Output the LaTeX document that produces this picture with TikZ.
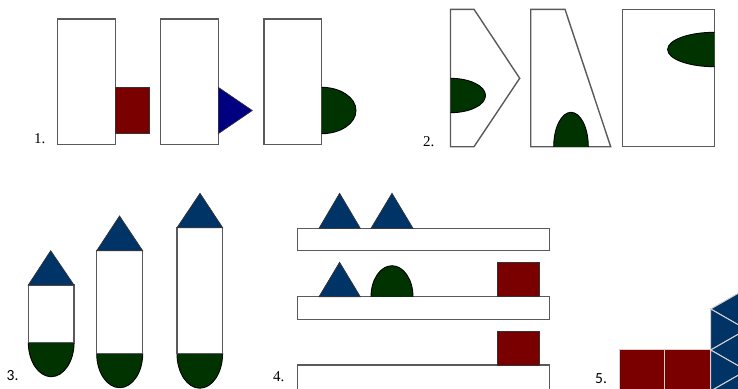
\documentclass[tikz,border=0pt]{standalone}
\usepackage{fontspec}
\setmainfont{Liberation Serif}
\newfontfamily\labsans{Carlito}
\definecolor{cred}{HTML}{7A0000}
\definecolor{cnavy}{HTML}{000080}
\definecolor{cblue}{HTML}{003366}
\definecolor{cgreen}{HTML}{003300}
\definecolor{cedge}{HTML}{5A5A5A}
\definecolor{clight}{HTML}{D8D0D0}
\tikzset{
  box/.style={draw=cedge, fill=white, line width=1.4pt},
  redsq/.style={draw=black!80, fill=cred, line width=0.9pt},
  navytri/.style={draw=black!80, fill=cnavy, line width=0.6pt},
  bluetri/.style={draw=black!80, fill=cblue, line width=0.7pt},
  greenshape/.style={draw=black, fill=cgreen, line width=0.9pt},
  tile/.style={draw=clight, line width=1pt},
  lab/.style={font=\fontsize{15}{17}\selectfont, inner sep=0pt, anchor=base west},
  labs/.style={font=\labsans\fontsize{15.5}{17}\selectfont, inner sep=0pt, anchor=base west},
}
\begin{document}
\begin{tikzpicture}[x=1pt, y=-1pt]
\useasboundingbox (0,0) rectangle (738,388);
\clip (0,0) rectangle (738,388);
\fill[white] (0,0) rectangle (738,388);

% ---------- 1 ----------
\node[lab] (l1) at (34,143) {1.};
\draw[box] (57.3,19) rectangle (115.3,144.7);
\draw[redsq] (115.3,87.3) rectangle (149.7,133.7);
\draw[box] (160.7,19) rectangle (218.3,144.7);
\draw[navytri] (218.3,87.3) -- (252.3,110.5) -- (218.3,133.7) -- cycle;
\draw[box] (264,19) rectangle (321.7,144.7);
\begin{scope}
  \clip (321.7,80) rectangle (370,140);
  \draw[greenshape] (321.7,110.5) ellipse [x radius=34.3, y radius=23.2];
\end{scope}

% ---------- 2 ----------
\node[lab] (l2) at (423,146.7) {2.};
\draw[box] (450.5,9.3) -- (474,9.3) -- (519.7,78.3) -- (474,146.7) -- (450.5,146.7) -- cycle;
\begin{scope}
  \clip (450.5,70) rectangle (500,120);
  \draw[greenshape] (450.5,95.5) ellipse [x radius=35, y radius=17.2];
\end{scope}
\draw[box] (530.7,9.3) -- (565,9.3) -- (610.7,146.7) -- (530.7,146.7) -- cycle;
\begin{scope}
  \clip (540,100) rectangle (600,146.7);
  \draw[greenshape] (571,146.7) ellipse [x radius=17.3, y radius=34.4];
\end{scope}
\draw[box] (622.3,9.3) rectangle (714.3,146.7);
\begin{scope}
  \clip (660,25) rectangle (714.3,75);
  \draw[greenshape] (714.3,49.5) ellipse [x radius=46.7, y radius=17.2];
\end{scope}

% ---------- 3 ----------
\node[labs] (l3) at (6.5,380) {3.};
% rocket 1
\begin{scope}
  \clip (20,342.3) rectangle (80,388);
  \draw[greenshape] (51.2,342.3) ellipse [x radius=22.9, y radius=34.4];
\end{scope}
\draw[box] (28.3,285) rectangle (74,342.3);
\draw[bluetri] (28.3,285) -- (50.7,250.7) -- (74,285) -- cycle;
% rocket 2
\begin{scope}
  \clip (90,353.7) rectangle (150,395);
  \draw[greenshape] (119.7,353.7) ellipse [x radius=23, y radius=34];
\end{scope}
\draw[box] (96.7,250.7) rectangle (142.7,353.7);
\draw[bluetri] (96.7,250.7) -- (119.5,216) -- (142.7,250.7) -- cycle;
% rocket 3
\begin{scope}
  \clip (170,353.7) rectangle (230,395);
  \draw[greenshape] (199.8,353.7) ellipse [x radius=22.8, y radius=34.5];
\end{scope}
\draw[box] (177,227.7) rectangle (222.7,353.7);
\draw[bluetri] (177,227.7) -- (200,193.3) -- (222.7,227.7) -- cycle;

% ---------- 4 ----------
\node[lab] (l4) at (273,381.7) {4.};
\draw[box] (297.3,228.3) rectangle (549.3,250.7);
\draw[bluetri] (319,228.3) -- (339.6,193.3) -- (360.3,228.3) -- cycle;
\draw[bluetri] (371,228.3) -- (392,193.3) -- (413,228.3) -- cycle;
\draw[box] (297.3,296.7) rectangle (549.3,319.3);
\draw[bluetri] (319,296.7) -- (339.6,262.3) -- (360.3,296.7) -- cycle;
\begin{scope}
  \clip (365,255) rectangle (420,296.7);
  \draw[greenshape] (392,296.7) ellipse [x radius=21, y radius=31];
\end{scope}
\draw[redsq] (497,262.3) rectangle (539.3,296.7);
\draw[box] (297.3,365) rectangle (549.3,400);
\draw[redsq] (497,331) rectangle (539.3,365);

% ---------- 5 ----------
\node[labs] (l5) at (595,383.5) {5.};
\draw[tile, fill=cred] (619.3,349.3) rectangle (664.5,395);
\draw[tile, fill=cred] (664.5,349.3) rectangle (710.7,395);
\draw[tile, fill=cblue] (746.5,288.5) -- (746.5,329.5) -- (710.7,309) -- cycle;
\draw[tile, fill=cblue] (710.7,309) -- (710.7,350) -- (746.5,329.5) -- cycle;
\draw[tile, fill=cblue] (746.5,329.5) -- (746.5,370.5) -- (710.7,350) -- cycle;
\draw[tile, fill=cblue] (710.7,350) -- (710.7,391) -- (746.5,370.5) -- cycle;
\draw[tile, fill=cblue] (746.5,370.5) -- (746.5,411.5) -- (710.7,391) -- cycle;
\end{tikzpicture}
\end{document}
